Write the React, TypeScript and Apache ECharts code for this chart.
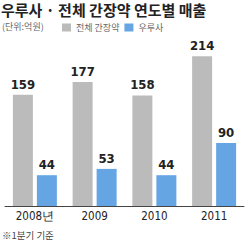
import React, { useEffect, useRef } from "react";
import * as echarts from "echarts";

const categories = ["2008년", "2009", "2010", "2011"];
const totalLiver = [159, 177, 158, 214];
const urusa = [44, 53, 44, 90];
const seriesNames = ["전체 간장약", "우루사"];
const titleText = "우루사 · 전체 간장약 연도별 매출";
const unitText = "(단위:억원)";
const noteText = "※1분기 기준";

const NARROW = "'Liberation Sans Narrow', 'Arial Narrow', 'DejaVu Sans Condensed', sans-serif";
const KR = "'Noto Sans CJK KR', 'Noto Sans', sans-serif";

export default function App() {
  const ref = useRef<HTMLDivElement>(null);
  useEffect(() => {
    if (!ref.current) return;
    const chart = echarts.init(ref.current, undefined, { renderer: "svg" });
    const labelStyle = {
      show: true,
      position: "top" as const,
      distance: 4,
      fontFamily: NARROW,
      fontWeight: "bold" as const,
      fontSize: 13,
      color: "#222",
    };
    chart.setOption({
      animation: false,
      backgroundColor: "#fff",
      grid: { left: 5, right: 6, top: 31, bottom: 36, containLabel: false },
      legend: {
        data: seriesNames,
        left: 62,
        top: 23,
        padding: 0,
        itemWidth: 9,
        itemHeight: 8,
        itemGap: 5,
        icon: "rect",
        textStyle: { fontFamily: KR, fontSize: 9, color: "#666" },
      },
      xAxis: {
        type: "category",
        data: categories,
        axisLine: { show: true, lineStyle: { color: "#444", width: 1 } },
        axisTick: { show: false },
        axisLabel: {
          margin: 4,
          fontFamily: NARROW,
          fontSize: 11.5,
          color: "#222",
        },
      },
      yAxis: {
        type: "value",
        min: 0,
        max: 250,
        show: false,
        splitLine: { show: false },
      },
      series: [
        {
          name: seriesNames[0],
          type: "bar",
          data: totalLiver,
          barWidth: 20,
          barGap: "20%",
          itemStyle: { color: "#bbbbbb" },
          label: labelStyle,
        },
        {
          name: seriesNames[1],
          type: "bar",
          data: urusa,
          barWidth: 20,
          barGap: "20%",
          itemStyle: { color: "#65a5e4" },
          label: labelStyle,
        },
      ],
      graphic: [
        {
          type: "text",
          left: 1,
          top: 2,
          style: {
            text: titleText,
            fontFamily: KR,
            fontWeight: "bold",
            fontSize: 15,
            fill: "#222",
          },
        },
        {
          type: "text",
          left: 2,
          top: 22,
          style: {
            text: unitText,
            fontFamily: KR,
            fontSize: 9,
            fill: "#666",
          },
        },
        {
          type: "text",
          left: 2,
          top: 230,
          style: {
            text: noteText,
            fontFamily: KR,
            fontSize: 9.5,
            fill: "#444",
          },
        },
      ],
    });
    return () => chart.dispose();
  }, []);
  return (
    <div
      ref={ref}
      style={{ position: "fixed", left: 0, top: 0, width: 250, height: 242 }}
    />
  );
}
